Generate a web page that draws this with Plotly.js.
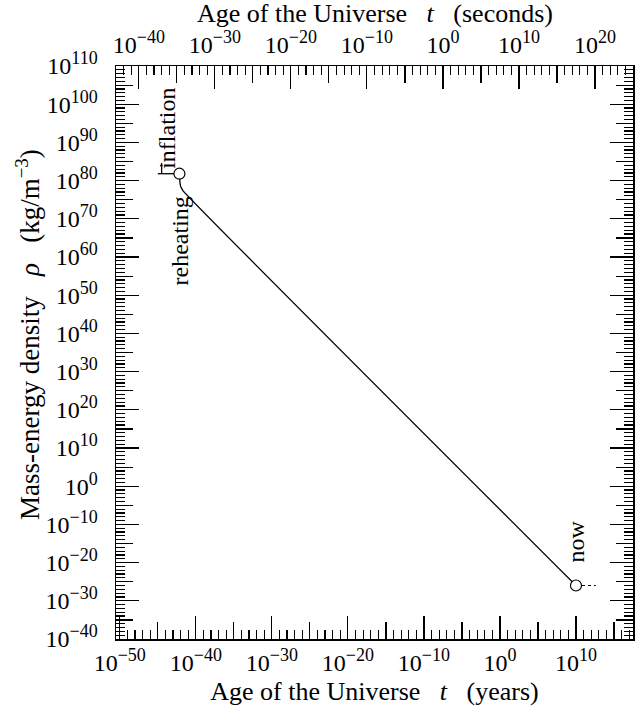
<!DOCTYPE html>
<html>
<head>
<meta charset="utf-8">
<script src="https://cdn.plot.ly/plotly-3.0.1.min.js"></script>
<style>html,body{margin:0;padding:0;background:#fff;}#chart{width:635px;height:706px;}</style>
</head>
<body>
<div id="chart"></div>
<script>
// ---- data (log10 exponents) ----
const curveLogYears   = [-42.16, -42.13, -42.08, -42.00, -41.85, -41.70, 10.0];
const curveLogDensity = [81.8, 80.6, 79.4, 78.5, 77.9, 77.4, -26.0];
const inflationLogYears   = [-45.0, -42.16];
const inflationLogDensity = [81.8, 81.8];
const inflationStartLogYears   = [-44.5, -44.5];
const inflationStartLogDensity = [81.8, 84.6];
const markerLogYears   = [-42.16, 10.0];
const markerLogDensity = [81.8, -26.0];
const futureLogYears   = [10.0, 12.6];
const futureLogDensity = [-26.0, -26.0];

const yearTickExp    = [-50, -40, -30, -20, -10, 0, 10];
const secondTickExp  = [-40, -30, -20, -10, 0, 10, 20];
const densityTickExp = [110, 100, 90, 80, 70, 60, 50, 40, 30, 20, 10, 0, -10, -20, -30, -40];

const GAP = '\u2002 ';
const labels = {
  xBottom: 'Age of the Universe' + GAP + '<i>t</i>' + GAP + '(years)',
  xTop: 'Age of the Universe' + GAP + '<i>t</i>' + GAP + '(seconds)',
  y: 'Mass-energy density' + GAP + '<i>\u03c1</i>' + GAP + '(kg/m<sup>\u22123</sup>)',
  inflation: 'inflation',
  reheating: 'reheating',
  now: 'now'
};

// ---- helpers ----
const pw = e => Math.pow(10, e);
const supLabel = e => '10<sup><span style="font-size:18px">' + (e < 0 ? '\u2212' + (-e) : String(e)) + '</span></sup>';
const FONT = 'Liberation Serif, Times New Roman, serif';
const yearRange = [-50.5, 17.5];
const secOffset = Math.log10(365.25 * 86400);
const secRange = [yearRange[0] + secOffset, yearRange[1] + secOffset];
const yRange = [-40, 110];
const rangeInts = (a, b, step, off) => { const r = []; for (let v = Math.ceil(a); v <= Math.floor(b); v++) if (((v - off) % step + step) % step === 0) r.push(v); return r; };

const yearMinor = rangeInts(yearRange[0], yearRange[1], 1, 0).map(pw);
const yearMid = rangeInts(yearRange[0], yearRange[1], 10, 5).map(pw);
const secMinor = rangeInts(secRange[0], secRange[1], 1, 0).map(pw);
const secMid = rangeInts(secRange[0], secRange[1], 10, 5).map(pw);
const denMinor = rangeInts(yRange[0], yRange[1], 1, 0).map(pw);
const denMid = rangeInts(yRange[0], yRange[1], 10, 5).map(pw);

const lineStyle = {color: '#000', width: 1.3};
const traces = [
  {x: curveLogYears.map(pw), y: curveLogDensity.map(pw), mode: 'lines', line: {color: '#000', width: 1.3, shape: 'spline', smoothing: 0.6}, hoverinfo: 'skip', showlegend: false},
  {x: inflationLogYears.map(pw), y: inflationLogDensity.map(pw), mode: 'lines', line: lineStyle, showlegend: false},
  {x: inflationStartLogYears.map(pw), y: inflationStartLogDensity.map(pw), mode: 'lines', line: lineStyle, showlegend: false},
  {x: futureLogYears.map(pw), y: futureLogDensity.map(pw), mode: 'lines', line: {color: '#000', width: 1.2, dash: '3px,3px'}, showlegend: false},
  {x: markerLogYears.map(pw), y: markerLogDensity.map(pw), mode: 'markers', marker: {symbol: 'circle', size: 11, color: '#fff', line: {color: '#000', width: 1.2}}, showlegend: false},
  // invisible traces to activate overlay axes
  {x: [pw(0)], y: [pw(0)], xaxis: 'x2', yaxis: 'y', mode: 'markers', marker: {opacity: 0}, hoverinfo: 'skip', showlegend: false},
  {x: [pw(0)], y: [pw(0)], xaxis: 'x3', yaxis: 'y2', mode: 'markers', marker: {opacity: 0}, hoverinfo: 'skip', showlegend: false},
  {x: [pw(0)], y: [pw(0)], xaxis: 'x4', yaxis: 'y', mode: 'markers', marker: {opacity: 0}, hoverinfo: 'skip', showlegend: false}
];

const tickFont = {family: FONT, size: 24, color: '#000'};
const titleFont = {family: FONT, size: 26, color: '#000'};
const base = {showgrid: false, zeroline: false, ticks: 'inside', tickcolor: '#000', tickwidth: 1.2};

const M = {l: 116, r: 2, t: 66, b: 67};
const plotW = 635 - M.l - M.r, plotH = 706 - M.t - M.b;

const layout = {
  width: 635, height: 706,
  margin: M,
  paper_bgcolor: '#fff', plot_bgcolor: '#fff',
  font: {family: FONT, size: 24, color: '#000'},
  xaxis: Object.assign({}, base, {
    type: 'log', range: yearRange, side: 'bottom', anchor: 'y',
    tickmode: 'array', tickvals: yearTickExp.map(pw), ticktext: yearTickExp.map(supLabel),
    ticklen: 23, tickfont: tickFont, ticklabelstandoff: 2,
    minor: {tickmode: 'array', tickvals: yearMinor, ticks: 'inside', ticklen: 9, tickcolor: '#000', tickwidth: 1.2},
    showline: true, linecolor: '#000', linewidth: 1.5,
    title: {text: labels.xBottom, font: titleFont, standoff: 11}
  }),
  xaxis2: Object.assign({}, base, {
    type: 'log', range: secRange, side: 'top', overlaying: 'x', anchor: 'y',
    tickmode: 'array', tickvals: secondTickExp.map(pw), ticktext: secondTickExp.map(supLabel),
    ticklen: 23, tickfont: tickFont, ticklabelstandoff: 2,
    minor: {tickmode: 'array', tickvals: secMinor, ticks: 'inside', ticklen: 9, tickcolor: '#000', tickwidth: 1.2},
    showline: true, linecolor: '#000', linewidth: 1.5
  }),
  xaxis3: Object.assign({}, base, {
    type: 'log', range: yearRange, side: 'bottom', overlaying: 'x', anchor: 'y',
    tickmode: 'array', tickvals: yearMid, ticklen: 17, showticklabels: false, showline: false
  }),
  xaxis4: Object.assign({}, base, {
    type: 'log', range: secRange, side: 'top', overlaying: 'x', anchor: 'y',
    tickmode: 'array', tickvals: secMid, ticklen: 17, showticklabels: false, showline: false
  }),
  yaxis: Object.assign({}, base, {
    type: 'log', range: yRange, side: 'left',
    tickmode: 'array', tickvals: densityTickExp.map(pw), ticktext: densityTickExp.map(supLabel),
    ticklen: 23, tickfont: tickFont, ticklabelstandoff: 12,
    minor: {tickmode: 'array', tickvals: denMinor, ticks: 'inside', ticklen: 9, tickcolor: '#000', tickwidth: 1.2},
    showline: true, linecolor: '#000', linewidth: 1.5, mirror: 'ticks'
  }),
  yaxis2: Object.assign({}, base, {
    type: 'log', range: yRange, side: 'left', overlaying: 'y', anchor: 'x',
    tickmode: 'array', tickvals: denMid, ticklen: 17, showticklabels: false, showline: false, mirror: 'ticks'
  }),
  annotations: [
    {x: 0.5, y: 1 + (M.t - 13) / plotH, xref: 'paper', yref: 'paper', xanchor: 'center', yanchor: 'middle',
     text: labels.xTop, showarrow: false, font: titleFont},
    {x: (28 - M.l) / plotW, y: (706 - M.b - 335) / plotH, xref: 'paper', yref: 'paper', xanchor: 'center', yanchor: 'middle',
     text: labels.y, textangle: -90, showarrow: false, font: {family: FONT, size: 27}},
    {x: -43.8, y: 93.8, xref: 'x', yref: 'y', text: labels.inflation, textangle: -90, showarrow: false, font: {family: FONT, size: 24}},
    {x: -42.1, y: 64.3, xref: 'x', yref: 'y', text: labels.reheating, textangle: -90, showarrow: false, font: {family: FONT, size: 24}},
    {x: 10.0, y: -14.5, xref: 'x', yref: 'y', text: labels.now, textangle: -90, showarrow: false, font: {family: FONT, size: 24}}
  ]
};

Plotly.newPlot('chart', traces, layout, {displayModeBar: false, staticPlot: true});
</script>
</body>
</html>
